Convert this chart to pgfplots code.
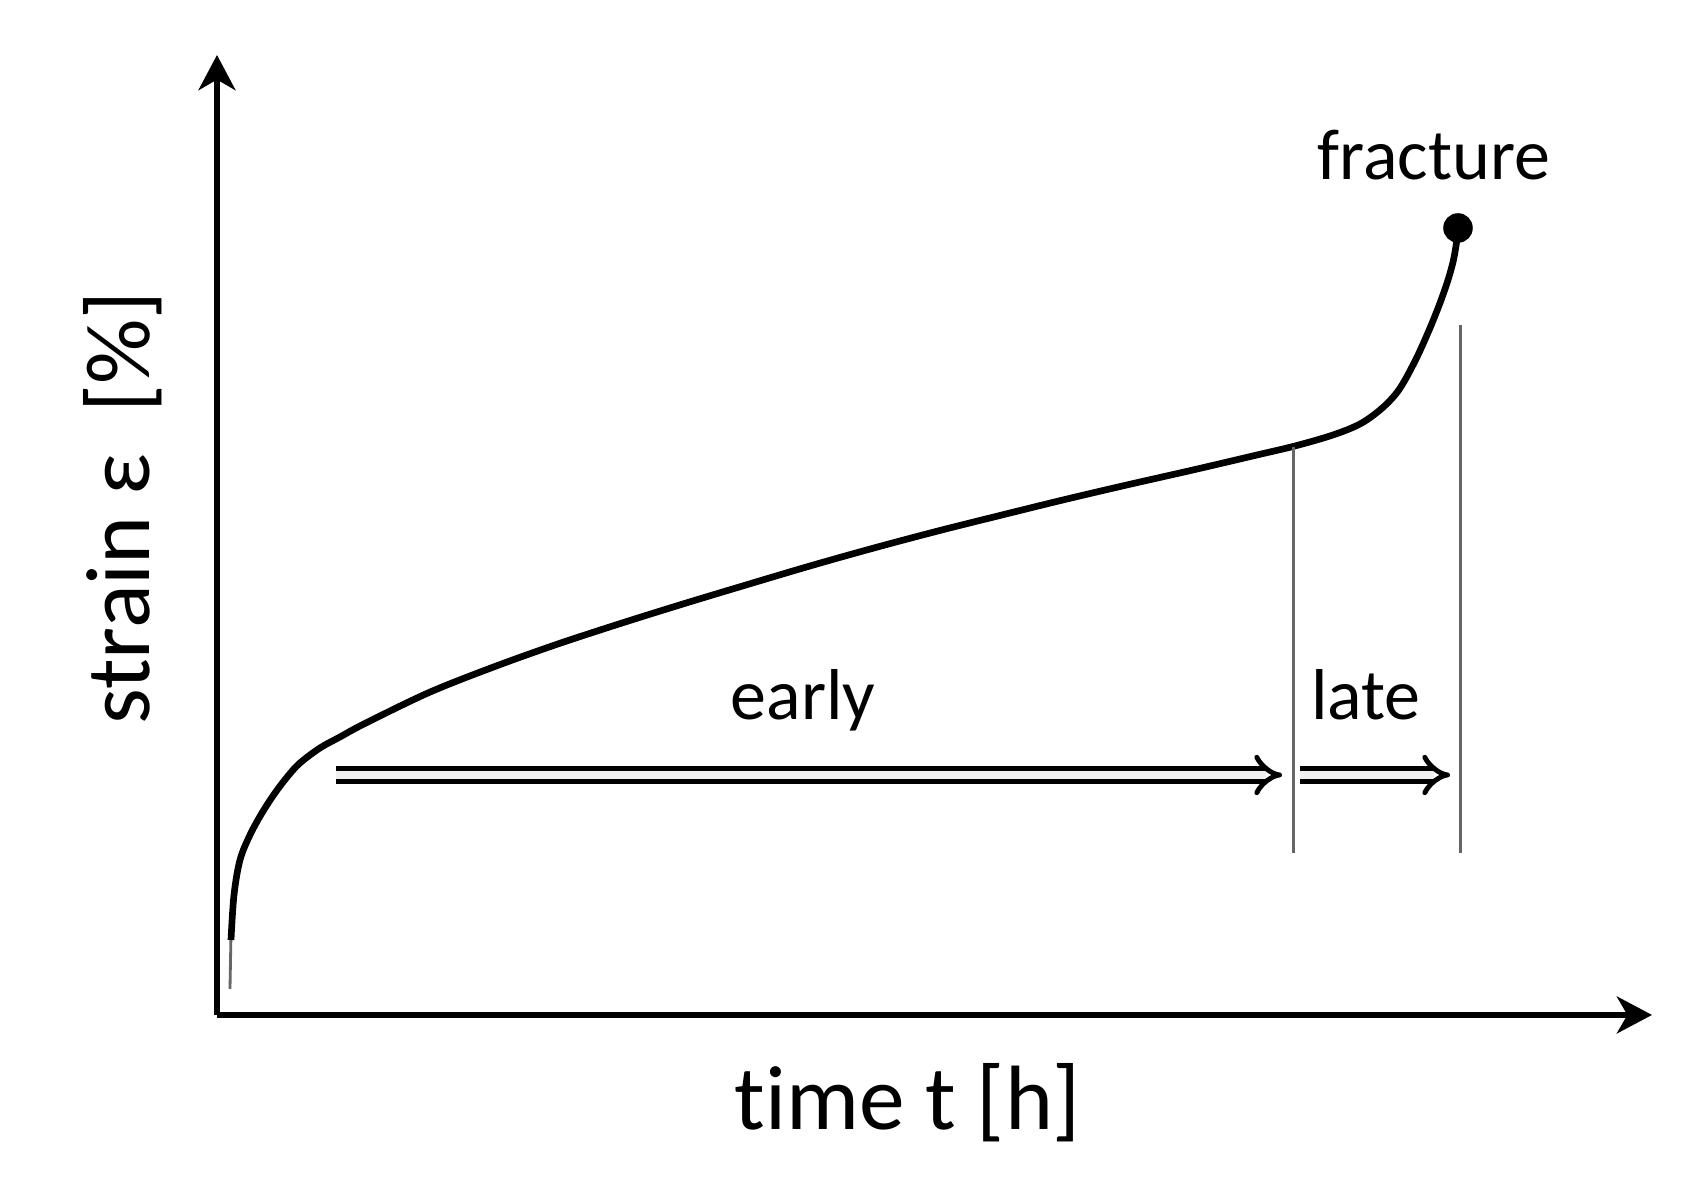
\documentclass[border=0pt]{standalone}
\usepackage{pgfplots}
\pgfplotsset{compat=1.18}
\usepackage{fontspec}
\setmainfont{Carlito}[Ligatures={NoCommon,NoRare,NoContextual}]
\usetikzlibrary{arrows.meta}
\begin{document}
\begin{tikzpicture}
\begin{axis}[
  scale only axis,
  width=143.5mm, height=96mm,
  xmin=217, xmax=1652, ymin=164, ymax=1124,
  axis lines=left,
  axis line style={line width=1.6pt, -{Stealth[length=10pt,width=10.5pt,inset=3pt]}},
  xtick=\empty, ytick=\empty,
  clip=false,
]
\path (axis cs:0,0) rectangle (axis cs:1691,1179);
% thin start of the curve
\addplot[black!60, line width=0.8pt] coordinates {(230,190) (231,245)};
% creep curve
\addplot[black, line width=1.9pt, smooth, tension=0.55] coordinates {
(231,239) (234,284) (240,319) (250,344) (262,366) (275,386) (288,403) (300,416)
(320,431) (340,442) (364,455) (428,486) (491,511) (555,534) (619,555) (683,575)
(746,594) (810,613) (874,631) (938,648) (1002,664) (1065,679.5) (1129,694.5)
(1193,709) (1257,724) (1295,733) (1333,744) (1360,755) (1380,769) (1395,784)
(1405,799) (1418,824) (1430,851) (1440,876) (1448,899) (1453,917) (1456,933)
(1458,949)
};
% fracture point
\addplot[only marks, mark=*, mark size=4pt, black] coordinates {(1458,951)};
% vertical separators
\addplot[gray!80!black, line width=0.85pt] coordinates {(1293,326) (1293,732)};
\addplot[gray!80!black, line width=0.85pt] coordinates {(1460,326) (1460,854)};
% stage arrows
\addplot[double=black!6, line width=1.4pt, double distance=2.4pt, -{Implies[scale=1.25]}] coordinates {(336,404) (1282,404)};
\addplot[double=black!6, line width=1.4pt, double distance=2.4pt, -{Implies[scale=1.25]}] coordinates {(1300,404) (1450,404)};
% labels
\node[anchor=base, font=\fontsize{20.5pt}{24pt}\selectfont] at (axis cs:1434,999) {fracture};
\node[anchor=base, font=\fontsize{20.5pt}{24pt}\selectfont] at (axis cs:803,459) {early};
\node[anchor=base, font=\fontsize{20.5pt}{24pt}\selectfont] at (axis cs:1366,459) {late};
\node[anchor=base, font=\fontsize{26pt}{30pt}\selectfont] at (axis cs:908,49) {t\kern0pt ime t [h]};
\node[anchor=base, rotate=90, font=\fontsize{26pt}{30pt}\selectfont] at (axis cs:150,671) {strain ε\hspace{0.45em}[\%]};
\end{axis}
\end{tikzpicture}
\end{document}
